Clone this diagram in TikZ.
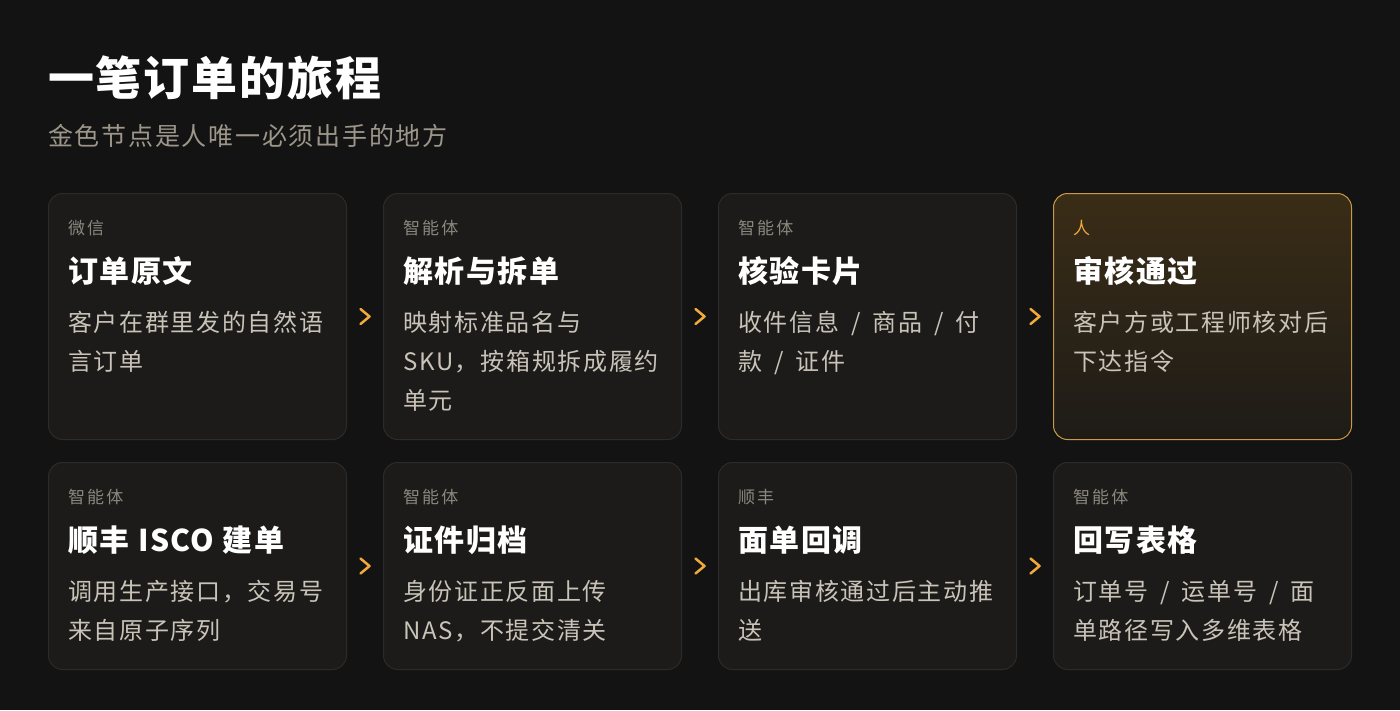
\documentclass[tikz,border=0pt]{standalone}
\usepackage{fontspec}
\setmainfont{Noto Sans CJK SC}
\newfontfamily\tagfont{Noto Sans CJK SC}[LetterSpace=12]
\newfontfamily\txtfont{Noto Sans CJK SC}[LetterSpace=7]
\newfontfamily\headfont{Noto Sans CJK SC}[LetterSpace=5]
\usetikzlibrary{positioning,calc}

\definecolor{bg}{HTML}{131313}
\definecolor{cardfill}{HTML}{1C1B1A}
\definecolor{cardline}{HTML}{2C2B29}
\definecolor{goldline}{HTML}{C89A45}
\definecolor{goldtop}{HTML}{3A2D17}
\definecolor{goldbot}{HTML}{1E1B17}
\definecolor{chevgold}{HTML}{F2A93B}
\definecolor{taggray}{HTML}{8C877E}
\definecolor{bodytext}{HTML}{C9C3B8}
\definecolor{subgray}{HTML}{9D968A}

% wide slash between items
\newcommand{\sls}{\hspace{12pt}/\hspace{12pt}}

\begin{document}
\begin{tikzpicture}[x=1pt, y=-1pt]

		\tikzstyle{card}=[rectangle, rounded corners=14pt, draw=cardline, fill=cardfill, line width=1pt, minimum width=298pt, minimum height=246pt, inner sep=0pt, anchor=north west]
		\tikzstyle{low}=[card, minimum height=207pt]
		\tikzstyle{gold}=[card, draw=goldline, top color=goldtop, bottom color=goldbot]
		\tikzstyle{tag}=[anchor=base west, inner sep=0pt, text=taggray, font=\tagfont\fontsize{17pt}{17pt}\selectfont]
		\tikzstyle{head}=[anchor=base west, inner sep=0pt, text=white, font=\headfont\bfseries\fontsize{30pt}{30pt}\selectfont]
		\tikzstyle{body}=[anchor=north west, inner sep=0pt, align=left, text=bodytext, font=\txtfont\fontsize{24pt}{39pt}\selectfont, execute at begin node=\strut]
		\tikzstyle{chev}=[draw=chevgold, line width=2.5pt, line cap=round, line join=round]

		\fill[bg] (0,0) rectangle (1400,710);
		\useasboundingbox (0,0) rectangle (1400,710);

		% heading
		\node[anchor=base west, inner sep=0pt, text=white, font=\bfseries\addfontfeatures{LetterSpace=4}\fontsize{46pt}{46pt}\selectfont] (title) at (48,95) {一笔订单的旅程};
		\node[anchor=base west, inner sep=0pt, text=subgray, font=\txtfont\fontsize{25pt}{25pt}\selectfont] (sub) at (48,145) {金色节点是人唯一必须出手的地方};

		% first row
		\node[card] (c1) at (48,193) {};
		\node[card] (c2) at (383,193) {};
		\node[card] (c3) at (718,193) {};
		\node[gold] (c4) at (1053,193) {};

		\node[tag] (t1) at ([shift={(20,41)}]c1.north west) {微信};
		\node[head] (h1) at ([shift={(20,89)}]c1.north west) {订单原文};
		\node[body] (b1) at ([shift={(20,118)}]c1.north west) {客户在群里发的自然语\\言订单};

		\node[tag] (t2) at ([shift={(20,41)}]c2.north west) {智能体};
		\node[head] (h2) at ([shift={(20,89)}]c2.north west) {解析与拆单};
		\node[body] (b2) at ([shift={(20,118)}]c2.north west) {映射标准品名与\\SKU，按箱规拆成履约\\单元};

		\node[tag] (t3) at ([shift={(20,41)}]c3.north west) {智能体};
		\node[head] (h3) at ([shift={(20,89)}]c3.north west) {核验卡片};
		\node[body] (b3) at ([shift={(20,118)}]c3.north west) {收件信息\sls 商品\sls 付\\款\sls 证件};

		\node[tag, text=chevgold] (t4) at ([shift={(20,41)}]c4.north west) {人};
		\node[head] (h4) at ([shift={(20,89)}]c4.north west) {审核通过};
		\node[body] (b4) at ([shift={(20,118)}]c4.north west) {客户方或工程师核对后\\下达指令};

		% second row
		\node[low] (c5) at (48,462) {};
		\node[low] (c6) at (383,462) {};
		\node[low] (c7) at (718,462) {};
		\node[low] (c8) at (1053,462) {};

		\node[tag] (t5) at ([shift={(20,41)}]c5.north west) {智能体};
		\node[head] (h5) at ([shift={(20,89)}]c5.north west) {顺丰 ISCO 建单};
		\node[body] (b5) at ([shift={(20,118)}]c5.north west) {调用生产接口，交易号\\来自原子序列};

		\node[tag] (t6) at ([shift={(20,41)}]c6.north west) {智能体};
		\node[head] (h6) at ([shift={(20,89)}]c6.north west) {证件归档};
		\node[body] (b6) at ([shift={(20,118)}]c6.north west) {身份证正反面上传\\NAS，不提交清关};

		\node[tag] (t7) at ([shift={(20,41)}]c7.north west) {顺丰};
		\node[head] (h7) at ([shift={(20,89)}]c7.north west) {面单回调};
		\node[body] (b7) at ([shift={(20,118)}]c7.north west) {出库审核通过后主动推\\送};

		\node[tag] (t8) at ([shift={(20,41)}]c8.north west) {智能体};
		\node[head] (h8) at ([shift={(20,89)}]c8.north west) {回写表格};
		\node[body] (b8) at ([shift={(20,118)}]c8.north west) {订单号\sls 运单号\sls 面\\单路径写入多维表格};

		% chevrons between the cards
		\coordinate (a12) at ($(c1.east)!0.5!(c2.west)$);
		\coordinate (a23) at ($(c2.east)!0.5!(c3.west)$);
		\coordinate (a34) at ($(c3.east)!0.5!(c4.west)$);
		\coordinate (a56) at ($(c5.east)!0.5!(c6.west)$);
		\coordinate (a67) at ($(c6.east)!0.5!(c7.west)$);
		\coordinate (a78) at ($(c7.east)!0.5!(c8.west)$);
		\draw[chev] ([shift={(-4.5,-7.5)}]a12) -- ([shift={(4.5,0)}]a12) -- ([shift={(-4.5,7.5)}]a12);
		\draw[chev] ([shift={(-4.5,-7.5)}]a23) -- ([shift={(4.5,0)}]a23) -- ([shift={(-4.5,7.5)}]a23);
		\draw[chev] ([shift={(-4.5,-7.5)}]a34) -- ([shift={(4.5,0)}]a34) -- ([shift={(-4.5,7.5)}]a34);
		\draw[chev] ([shift={(-4.5,-7.5)}]a56) -- ([shift={(4.5,0)}]a56) -- ([shift={(-4.5,7.5)}]a56);
		\draw[chev] ([shift={(-4.5,-7.5)}]a67) -- ([shift={(4.5,0)}]a67) -- ([shift={(-4.5,7.5)}]a67);
		\draw[chev] ([shift={(-4.5,-7.5)}]a78) -- ([shift={(4.5,0)}]a78) -- ([shift={(-4.5,7.5)}]a78);

\end{tikzpicture}
\end{document}
